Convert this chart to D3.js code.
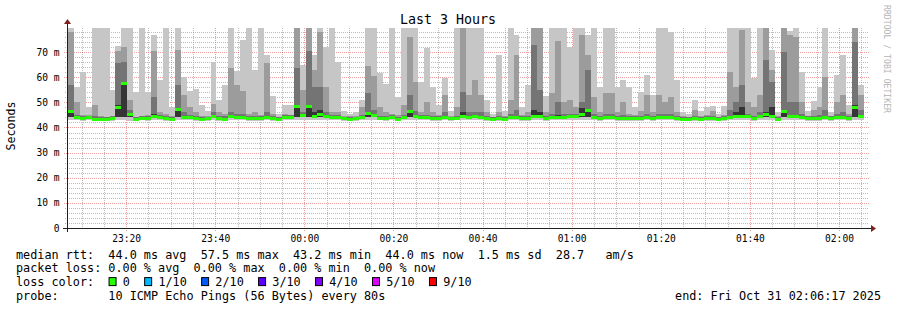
<!DOCTYPE html>
<html>
<head>
<meta charset="utf-8">
<script src="https://cdn.jsdelivr.net/npm/d3@7"></script>
<style>
  body { margin: 0; background: #fff; }
  text { font-family: "DejaVu Sans Mono", monospace; }
</style>
</head>
<body>
<div id="chart"></div>
<script>
// smoke: ping values per 80s column, ms (clipped at the top)
const ping8 = [
  80,56,62,48,80,80,80,55,72.5,80,
  80,54,80,54,77,59,80,48,80,60,
  54.5,55.5,49,46.5,66,51,57,80,62.5,75,
  80,62.8,80,69,52.4,45.5,49,48.8,80,65,
  80,68.7,80,72,80,66,46.6,45.5,46,51,
  80,80,61.5,57.5,80,52,80,80,80,58,
  71.6,56,49,59.6,46.5,80,80,80,80,80,
  51,45.5,68.8,46.5,80,77,48,57,80,80,
  52.4,80,80,80,72,80,80,77,80,56,
  80,80,56,59,56,48,54,61,53,80,
  80,78,58.8,46,45.5,51,46.5,48,48.5,45.5,
  48.5,80,80,80,80,59.6,80,80,71,46,
  80,78.4,80,62,46.5,50.4,56,80,46,61,
  69,49,80,57]
const ping7 = [
  78,50,45,45,49,44.5,44.3,44.6,70.5,72,
  51,44.3,44.7,45,70.5,46,45.5,44.4,70.8,53,
  48,46,44.5,44.6,49.5,46,45.5,63.6,57,54.5,
  45.5,46,45,65.5,45.5,44.3,45.5,45,80,55,
  80,62.7,78,56,46,46,44.6,44.4,44.5,48,
  64.5,60.5,48,46,45.5,45,49,76,58,46,
  50,46,44.8,53,44.6,48,80,53,59,53,
  46,44.2,46,44.5,51,69,45,46,80,80,
  46,53.6,74.4,50,51,48,76.8,69,52,46,
  53.7,53.7,46,50,45.5,45,46.5,53,46,53,
  50,52,46,44.5,44.3,47,44.5,45,46.5,44.3,
  45,62,56,79,50,48,53,80,62.8,44.5,
  80,77,76,50,44.6,47,48,60,44.6,50,
  53,45.5,80,53]
const ping6 = [
  57,44.8,44.6,44.6,44.4,44.2,44,44.4,65.5,66,
  47,44,44.5,44.5,52,44.8,44.6,44.2,57,46,
  44.8,44.6,44.3,44.3,46,44.6,44.4,46,45.5,45.5,
  44.6,44.6,44.5,46,44.5,44,44.8,44.8,63.6,46,
  70.5,56,56,46,44.8,44.8,44.3,44.2,44.3,44.8,
  53.6,47,44.6,44.6,44.8,44.3,44.8,52.8,46.5,44.8,
  45,44.6,44.5,46,44.3,44.7,54,46,46,46,
  44.6,44,44.6,44.3,45.5,47,44.5,44.7,72.8,55,
  44.7,45.5,50,45.5,45.5,45.5,50,63,45.5,44.6,
  45.5,45.5,44.6,45,44.5,44.5,44.6,45.5,44.6,45.5,
  45.5,45.5,44.6,44.3,44.2,44.7,44.3,44.5,44.6,44.2,
  44.6,47,50,57,45.5,44.7,46,67,58,44.3,
  70,50,50,45.5,44.4,44.7,45,47,44.4,45.5,
  46,44.7,74,47]
const ping5 = [
  47,44.2,43.9,44.2,43.7,43.6,43.6,43.8,49,58,
  45.5,43.7,43.9,43.8,45.5,44.2,43.9,43.6,47.6,44.4,
  44.2,43.9,43.7,43.8,45,43.9,43.7,44.8,44.4,44.4,
  43.9,43.9,43.8,44.6,43.8,43.7,44.2,44.2,49,45.2,
  49,46,47,44.8,44.4,44.2,43.9,43.7,43.8,44.2,
  46,45.2,44,43.9,44.2,43.7,44.2,47,44.8,44.2,
  44.4,43.9,43.9,44.5,43.8,44,46,44.6,44.8,44.6,
  43.9,43.6,43.9,43.7,44.3,44.6,43.9,44,47,46,
  44,44.3,45,44.5,44.7,45,47.6,47.5,44.5,44,
  44.3,44.3,43.9,44.1,43.8,43.9,43.9,44.3,43.9,44.5,
  44.5,44.3,43.9,43.7,43.6,43.9,43.7,43.8,43.9,43.6,
  43.9,44.6,46,48,44.9,44,44.8,46,48,43.7,
  47,45,45,44.3,43.8,43.9,44,44.6,43.8,44.3,
  44.6,44,48.8,45]
const ping4 = [
  44,43.6,43.4,43.6,43.2,43.1,43.1,43.3,44,44,
  44,43.2,43.4,43.3,44,43.6,43.4,43.1,44,43.8,
  43.6,43.4,43.2,43.3,44,43.4,43.2,44,43.8,43.8,
  43.4,43.4,43.3,43.8,43.3,43.2,43.6,43.6,44,44,
  44,44,44,44,43.8,43.6,43.4,43.2,43.3,43.6,
  44,44,43.5,43.4,43.6,43.2,43.6,44,44,43.6,
  43.8,43.4,43.4,43.8,43.3,43.5,44,43.8,44,43.8,
  43.4,43.1,43.4,43.2,43.6,43.8,43.4,43.5,44,44,
  43.5,43.6,43.8,43.8,44,44,44,44,43.8,43.5,
  43.6,43.6,43.4,43.5,43.3,43.4,43.4,43.6,43.4,43.8,
  43.8,43.6,43.4,43.2,43.1,43.4,43.2,43.3,43.4,43.1,
  43.4,43.8,44,44,44,43.5,44,44,44,43.2,
  44,44,44,43.6,43.3,43.4,43.5,43.8,43.3,43.6,
  43.8,43.5,44,44]
const ping1 = [
  42.8,42.9,42.7,42.9,42.6,42.6,42.5,42.7,42.9,42.8,
  42.7,42.6,42.8,42.7,42.9,42.8,42.7,42.5,42.8,42.9,
  42.8,42.7,42.6,42.7,42.9,42.7,42.6,42.9,43,42.8,
  42.7,42.6,42.7,42.9,42.6,42.5,42.8,42.8,42.9,43,
  42.9,43,42.9,42.8,42.9,42.8,42.7,42.5,42.6,42.8,
  42.9,42.9,42.8,42.7,42.8,42.5,42.8,42.9,43,42.8,
  42.9,42.7,42.6,42.9,42.6,42.8,42.9,42.9,43,42.9,
  42.7,42.4,42.7,42.5,42.8,42.9,42.6,42.7,42.9,42.8,
  42.7,42.8,42.9,42.8,42.9,42.9,42.8,42.9,43,42.7,
  42.8,42.8,42.6,42.7,42.5,42.6,42.6,42.8,42.6,42.9,
  42.9,42.8,42.6,42.4,42.4,42.7,42.5,42.6,42.7,42.4,
  42.6,42.9,42.9,43,42.9,42.7,42.9,42.9,42.8,42.5,
  42.9,42.9,42.8,42.8,42.6,42.7,42.7,42.9,42.5,42.8,
  42.9,42.7,43,42.9]
const medianRtt = [
  46.5,43.8,43.5,43.8,43.3,43.2,43.2,43.4,48,57.5,
  45,43.3,43.5,43.4,44.5,43.8,43.5,43.2,47,44,
  43.8,43.5,43.3,43.4,44.5,43.5,43.3,44.2,44,44,
  43.5,43.5,43.4,44,43.4,43.3,43.8,43.8,48.3,44.8,
  48.3,44.5,45.2,44.2,44,43.8,43.5,43.3,43.4,43.8,
  45.5,44.8,43.6,43.5,43.8,43.3,43.8,46.5,44.2,43.8,
  44,43.5,43.5,44,43.4,43.6,44.5,44,44.2,44,
  43.5,43.2,43.5,43.3,43.8,44,43.5,43.6,44.5,44.3,
  43.6,43.8,44,44,44.2,44.5,45,46.7,44,43.6,
  43.8,43.8,43.5,43.6,43.4,43.5,43.5,43.8,43.5,44,
  44,43.8,43.5,43.3,43.2,43.5,43.3,43.4,43.5,43.2,
  43.5,44,44.5,44.5,44.3,43.6,44.2,45,44.5,43.3,
  46.5,44.3,44.3,43.8,43.4,43.5,43.6,44,43.4,43.8,
  44,43.6,48,44.3]

const yTicks = [0, 10, 20, 30, 40, 50, 60, 70]
const yTickLabels = ["0", "10 m", "20 m", "30 m", "40 m", "50 m", "60 m", "70 m"]
const xTickLabels = ["23:20", "23:40", "00:00", "00:20", "00:40", "01:00", "01:20", "01:40", "02:00"]

const legendLines = [
  "median rtt:  44.0 ms avg  57.5 ms max  43.2 ms min  44.0 ms now  1.5 ms sd  28.7   am/s",
  "packet loss: 0.00 % avg  0.00 % max  0.00 % min  0.00 % now",
  "loss color:",
  "probe:       10 ICMP Echo Pings (56 Bytes) every 80s",
]
const lossLabels = ["0", "1/10", "2/10", "3/10", "4/10", "5/10", "9/10"]
const lossColors = ["#26ff00", "#00b8ff", "#0059ff", "#5e00ff", "#7e00ff", "#dd00ff", "#ff0000"]
const endLabel = "end: Fri Oct 31 02:06:17 2025"

// smoke shades, outer pair to inner pair
const smokeColors = ["#c6c6c6", "#9c9c9c", "#747474", "#353535"]

const width = 897
const height = 310
const plotLeft = 67, plotRight = 867, plotTop = 28, plotBottom = 228

const startTime = new Date(2025, 9, 30, 23, 6, 17)
const endTime = new Date(2025, 9, 31, 2, 6, 17)
const firstColumn = new Date(2025, 9, 30, 23, 6, 57)
const stepMs = 80 * 1000

const xScale = d3.scaleTime()
  .domain([startTime, endTime])
  .range([65, 867])
const yScale = d3.scaleLinear()
  .domain([0, 79.6])
  .range([plotBottom, plotTop])

// svg text collapses runs of spaces, keep the fixed-width columns
const keepSpaces = s => s.replace(/ /g, "\u00a0")

const svg = d3.select("#chart")
  .append("svg")
    .attr("width", width)
    .attr("height", height)
    .style("display", "block")

svg.append("defs").append("clipPath")
    .attr("id", "plot-clip")
  .append("rect")
    .attr("x", plotLeft + 1)
    .attr("y", plotTop)
    .attr("width", plotRight - plotLeft - 1)
    .attr("height", plotBottom - plotTop)

// grid
const gridColor = "rgba(143,143,143,0.6)"
const majorColor = "rgba(222,79,79,0.55)"

const grid = svg.append("g").attr("shape-rendering", "crispEdges")
const minorTimes = d3.timeMinute.every(5).range(startTime, endTime)
  .filter(t => t.getMinutes() % 20 != 0)
const majorTimes = d3.timeMinute.every(20).range(startTime, endTime)

grid.selectAll(".vminor")
  .data(minorTimes)
  .join("line")
    .attr("x1", d => Math.round(xScale(d)) + 0.5)
    .attr("x2", d => Math.round(xScale(d)) + 0.5)
    .attr("y1", plotTop)
    .attr("y2", plotBottom + 2)
    .attr("stroke", gridColor)
    .attr("stroke-dasharray", "1 1")

const minorValues = d3.range(2, 80, 2).filter(v => v % 10 != 0)
grid.selectAll(".hminor")
  .data(minorValues)
  .join("line")
    .attr("x1", plotLeft - 2)
    .attr("x2", plotRight + 2)
    .attr("y1", d => Math.round(yScale(d)) + 0.5)
    .attr("y2", d => Math.round(yScale(d)) + 0.5)
    .attr("stroke", gridColor)
    .attr("stroke-dasharray", "1 1")

grid.selectAll(".vmajor")
  .data(majorTimes)
  .join("line")
    .attr("x1", d => Math.round(xScale(d)) + 0.5)
    .attr("x2", d => Math.round(xScale(d)) + 0.5)
    .attr("y1", plotTop)
    .attr("y2", plotBottom + 3)
    .attr("stroke", majorColor)
    .attr("stroke-dasharray", "1 1")

grid.selectAll(".hmajor")
  .data(yTicks.slice(1))
  .join("line")
    .attr("x1", plotLeft - 3)
    .attr("x2", plotRight + 3)
    .attr("y1", d => Math.round(yScale(d)) + 0.5)
    .attr("y2", d => Math.round(yScale(d)) + 0.5)
    .attr("stroke", majorColor)
    .attr("stroke-dasharray", "1 1")

// smoke
const columns = medianRtt.map((m, i) => {
  const t0 = new Date(+firstColumn + i * stepMs)
  const t1 = new Date(+t0 + stepMs)
  return {
    x0: Math.round(xScale(t0)),
    x1: Math.round(xScale(t1)),
    bands: [
      [ping1[i], ping8[i]],
      [ping4[i], ping7[i]],
      [ping4[i], ping6[i]],
      [ping4[i], ping5[i]],
    ],
    median: m,
  }
})

const smoke = svg.append("g")
  .attr("clip-path", "url(#plot-clip)")
  .attr("shape-rendering", "crispEdges")

smokeColors.forEach((color, b) => {
  smoke.append("g")
    .selectAll("rect")
    .data(columns)
    .join("rect")
      .attr("x", d => d.x0)
      .attr("width", d => d.x1 - d.x0)
      .attr("y", d => yScale(d.bands[b][1]))
      .attr("height", d => Math.max(0, yScale(d.bands[b][0]) - yScale(d.bands[b][1])))
      .attr("fill", color)
})

// median, coloured by loss (no loss in this window)
smoke.append("g")
  .selectAll("rect")
  .data(columns)
  .join("rect")
    .attr("x", d => d.x0)
    .attr("width", d => d.x1 - d.x0)
    .attr("y", d => Math.round(yScale(d.median) - 1.5))
    .attr("height", 3)
    .attr("fill", lossColors[0])

// axes
const axisColor = "#1f1f1f"
const arrowColor = "#801f1f"
svg.append("line")
  .attr("x1", plotLeft - 4).attr("x2", plotRight + 4)
  .attr("y1", plotBottom + 0.5).attr("y2", plotBottom + 0.5)
  .attr("stroke", axisColor)
svg.append("line")
  .attr("x1", plotLeft + 0.5).attr("x2", plotLeft + 0.5)
  .attr("y1", plotBottom + 4).attr("y2", plotTop - 4)
  .attr("stroke", axisColor)
svg.append("path")
  .attr("d", `M${plotRight + 4},${plotBottom - 3} L${plotRight + 9},${plotBottom + 0.5} L${plotRight + 4},${plotBottom + 4} Z`)
  .attr("fill", arrowColor)
svg.append("path")
  .attr("d", `M${plotLeft - 3},${plotTop - 4} L${plotLeft + 0.5},${plotTop - 9} L${plotLeft + 4},${plotTop - 4} Z`)
  .attr("fill", arrowColor)

const yAxis = svg.append("g")
  .attr("transform", `translate(${plotLeft},0)`)
  .call(d3.axisLeft(yScale)
    .tickValues(yTicks)
    .tickFormat((d, i) => keepSpaces(yTickLabels[i]))
    .tickSize(0)
    .tickPadding(7.5))
yAxis.select(".domain").remove()
yAxis.selectAll("text")
  .style("font-family", "DejaVu Sans Mono")
  .style("font-size", "9.6px")
  .attr("fill", "#000")

const xTickTimes = majorTimes
const xAxis = svg.append("g")
  .attr("transform", `translate(0,${plotBottom})`)
  .call(d3.axisBottom(xScale)
    .tickValues(xTickTimes)
    .tickFormat((d, i) => xTickLabels[i])
    .tickSize(0)
    .tickPadding(7))
xAxis.select(".domain").remove()
xAxis.selectAll("text")
  .style("font-family", "DejaVu Sans Mono")
  .style("font-size", "9.6px")
  .attr("fill", "#000")

// titles
svg.append("text")
  .attr("x", 448)
  .attr("y", 24)
  .attr("text-anchor", "middle")
  .style("font-size", "13.3px")
  .text("Last 3 Hours")

svg.append("text")
  .attr("transform", "translate(15,126) rotate(-90)")
  .attr("text-anchor", "middle")
  .style("font-size", "11.6px")
  .text("Seconds")

svg.append("text")
  .attr("transform", "translate(884,5) rotate(90)")
  .attr("textLength", 108)
  .attr("lengthAdjust", "spacingAndGlyphs")
  .style("font-size", "9px")
  .attr("fill", "#b4b4b4")
  .text(keepSpaces("RRDTOOL / TOBI OETIKER"))

// legend
const charW = 7.12
const legendX = 16
const legendY = [258.5, 272.3, 286.1, 299.9]
const legend = svg.append("g")
  .style("font-size", "11.8px")

legend.selectAll(".line")
  .data(legendLines)
  .join("text")
    .attr("x", legendX)
    .attr("y", (d, i) => legendY[i])
    .text(d => keepSpaces(d))

let col = 13
lossLabels.forEach((label, i) => {
  legend.append("rect")
    .attr("x", legendX + col * charW + 0.5)
    .attr("y", legendY[2] - 8.5)
    .attr("width", 7)
    .attr("height", 8)
    .attr("fill", lossColors[i])
    .attr("stroke", "#000")
    .attr("stroke-width", 1)
  legend.append("text")
    .attr("x", legendX + (col + 2) * charW)
    .attr("y", legendY[2])
    .text(label)
  col += 2 + label.length + 2
})

legend.append("text")
  .attr("x", 881)
  .attr("y", legendY[3])
  .attr("text-anchor", "end")
  .text(endLabel)
</script>
</body>
</html>
